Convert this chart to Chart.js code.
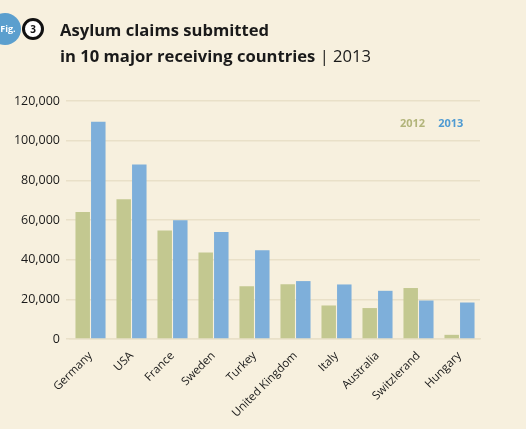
<!DOCTYPE html>
<html>
<head>
<meta charset="utf-8">
<script src="https://cdn.jsdelivr.net/npm/chart.js@4"></script>
<style>
  html, body { margin: 0; padding: 0; background: #f7f0de; }
  #wrap { position: relative; width: 526px; height: 429px; overflow: hidden; }
  #chart { position: absolute; left: 0; top: 0; }
  .fig { position: absolute; left: -11px; top: 13px; width: 32px; height: 32px; border-radius: 50%;
         background: #5b9fce; color: #fff; font: bold 9px 'Open Sans', sans-serif; line-height: 32px; text-align: center; text-indent: 6px; }
  .num { position: absolute; left: 22px; top: 18px; width: 16px; height: 16px; border-radius: 50%;
         border: 3px solid #111; background: #fff; color: #111; font: bold 10px 'Open Sans', sans-serif; line-height: 16px; text-align: center; }
  .title { position: absolute; left: 60px; top: 17px; font: bold 16.6px 'Open Sans', sans-serif; color: #1a1a1a; line-height: 26px; }
  .title span { font-weight: normal; }
</style>
</head>
<body>
<div id="wrap">
  <canvas id="chart" width="526" height="429"></canvas>
  <div class="fig">Fig.</div>
  <div class="num">3</div>
  <div class="title">Asylum claims submitted<br>in 10 major receiving countries <span>| 2013</span></div>
</div>
<script>
// Datos
const paises = ['Germany', 'USA', 'France', 'Sweden', 'Turkey', 'United Kingdom', 'Italy', 'Australia', 'Switzlerand', 'Hungary'];
const claims2012 = [64000, 70500, 54700, 43600, 26600, 27600, 16900, 15600, 25700, 2100];
const claims2013 = [109500, 88000, 59900, 53900, 44700, 29200, 27500, 24300, 19400, 18400];
const yTicks = [0, 20000, 40000, 60000, 80000, 100000, 120000];

// Leyenda de texto simple arriba a la derecha
const textLegend = {
    id: 'textLegend',
    afterDraw(chart) {
        const ctx = chart.ctx;
        const colors = ['#b2b47a', '#4f9bd2'];
        let x = 400;
        ctx.save();
        ctx.font = 'bold 11px "Open Sans", sans-serif';
        ctx.textBaseline = 'middle';
        chart.data.datasets.forEach((ds, i) => {
            ctx.fillStyle = colors[i];
            ctx.fillText(ds.label, x, 124);
            x += ctx.measureText(ds.label).width + 13;
        });
        ctx.restore();
    }
};

new Chart(document.getElementById('chart'), {
    type: 'bar',
    data: {
        labels: paises,
        datasets: [{
            label: '2012',
            data: claims2012,
            backgroundColor: '#c3c890'
        }, {
            label: '2013',
            data: claims2013,
            backgroundColor: '#7eafda'
        }]
    },
    options: {
        responsive: false,
        animation: false,
        layout: { padding: { top: 101, right: 46, left: 0, bottom: 0 } },
        plugins: { legend: { display: false }, tooltip: { enabled: false } },
        datasets: { bar: { categoryPercentage: 0.76, barPercentage: 0.93 } },
        scales: {
            x: {
                afterFit(scale) { scale.height = 90; },
                grid: { display: false },
                border: { color: '#e9e0c8', width: 1.5 },
                ticks: {
                    color: '#1a1a1a',
                    font: { family: 'Open Sans', size: 11.5 },
                    minRotation: 45,
                    maxRotation: 45,
                    padding: 2
                }
            },
            y: {
                min: 0,
                max: 120000,
                afterFit(scale) { scale.width = 70; },
                afterBuildTicks(scale) { scale.ticks = yTicks.map(v => ({ value: v })); },
                grid: { color: '#e9e0c8', lineWidth: 1.5, tickLength: 4, drawTicks: true },
                border: { display: false },
                ticks: {
                    color: '#1a1a1a',
                    font: { family: 'Open Sans', size: 12.5 },
                    padding: 6,
                    callback: v => v.toLocaleString('en-US')
                }
            }
        }
    },
    plugins: [textLegend]
});
</script>
</body>
</html>
